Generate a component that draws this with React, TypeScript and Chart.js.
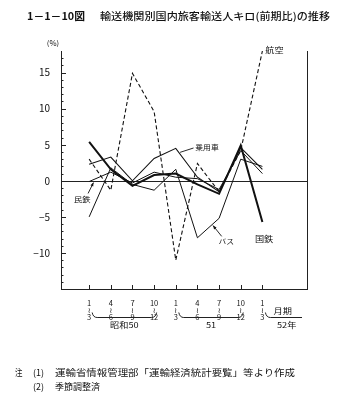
import React, { useEffect, useLayoutEffect, useRef } from 'react';
import { Chart, registerables } from 'chart.js';

Chart.register(...registerables);

// ---- data ----
const quarterIndex = [0, 1, 2, 3, 4, 5, 6, 7, 8];
const quarterStart = ['1', '4', '7', '10', '1', '4', '7', '10', '1'];
const quarterEnd = ['3', '6', '9', '12', '3', '6', '9', '12', '3'];
const groupLabels = ['昭和50', '51', '52年'];
const groupFirst = [0, 4, 8];
const groupLast = [3, 7, 8];
const periodLabel = '月期';
const unitLabel = '(%)';

const kokutetsu = [5.4, 1.6, -0.7, 0.8, 1.0, -0.5, -1.8, 4.9, -5.7];
const mintetsu = [-0.1, 1.2, -0.3, 1.2, 0.5, 0.3, -1.2, 4.2, 1.0];
const jouyousha = [2.3, 3.3, 0.0, 3.1, 4.5, 0.5, -1.5, 4.6, 1.6];
const bus = [-5.0, 1.8, -0.5, -1.3, 1.6, -7.9, -5.2, 3.0, 2.0];
const koukuu = [3.0, -1.3, 14.9, 9.6, -11.0, 2.4, -1.5, 4.2, 18.0];

const yMin = -15;
const yMax = 18;
const yLabelled = [15, 10, 5, 0, -5, -10];

const titleNo = '1－1－10図';
const titleText = '輸送機関別国内旅客輸送人キロ(前期比)の推移';
const note1 = '運輸省情報管理部「運輸経済統計要覧」等より作成';
const note2 = '季節調整済';

// ---- annotation placement (data coordinates) ----
const annotations = [
  { text: '航空', x: 8.13, y: 18.1, align: 'left', size: 8, arrow: null },
  { text: '乗用車', x: 4.9, y: 4.65, align: 'left', size: 6.8, arrow: [4.82, 4.55, 4.2, 3.95], head: false },
  { text: '国鉄', x: 8.08, y: -8.0, align: 'center', size: 8, arrow: null },
  { text: 'バス', x: 6.33, y: -8.4, align: 'center', size: 6.8, arrow: [6.12, -7.7, 5.72, -6.2], head: true },
  { text: '民鉄', x: -0.32, y: -2.57, align: 'center', size: 7.2, arrow: [-0.05, -1.75, 0.2, -0.25], head: true },
];

const FONT = "'Noto Sans CJK JP', 'DejaVu Sans', sans-serif";
const INK = '#111';

function drawText(ctx: CanvasRenderingContext2D, text: string, x: number, y: number, align: CanvasTextAlign, size: number, sx = 1.15) {
  ctx.save();
  ctx.translate(x, y);
  ctx.scale(sx, 1);
  ctx.font = `${size}px ${FONT}`;
  ctx.textAlign = align;
  ctx.textBaseline = 'middle';
  ctx.fillStyle = INK;
  ctx.fillText(text, 0, 0);
  ctx.restore();
}

const decorPlugin = {
  id: 'decor',
  beforeDatasetsDraw(chart: any) {
    const { ctx, chartArea, scales } = chart;
    const xs = scales.x;
    const ys = scales.y;
    ctx.save();
    ctx.strokeStyle = '#222';
    ctx.lineWidth = 1;
    const y0 = Math.round(ys.getPixelForValue(0)) + 0.5;
    ctx.beginPath();
    ctx.moveTo(chartArea.left, y0);
    ctx.lineTo(chartArea.right, y0);
    ctx.stroke();
    ctx.beginPath();
    ctx.moveTo(Math.round(chartArea.right) + 0.5, chartArea.top);
    ctx.lineTo(Math.round(chartArea.right) + 0.5, chartArea.bottom);
    ctx.stroke();
    ys.ticks.forEach((t: any) => {
      const py = Math.round(ys.getPixelForValue(t.value)) + 0.5;
      const len = t.value % 5 === 0 ? 5 : 2.5;
      ctx.beginPath();
      ctx.moveTo(chartArea.left, py);
      ctx.lineTo(chartArea.left + len, py);
      ctx.stroke();
    });
    xs.ticks.forEach((t: any) => {
      const px = Math.round(xs.getPixelForValue(t.value)) + 0.5;
      ctx.beginPath();
      ctx.moveTo(px, chartArea.bottom);
      ctx.lineTo(px, chartArea.bottom - 4);
      ctx.stroke();
    });
    ctx.restore();
  },
  afterDraw(chart: any) {
    const { ctx, chartArea, scales } = chart;
    const xs = scales.x;
    const ys = scales.y;
    drawText(ctx, unitLabel, chartArea.left - 8, chartArea.top - 8, 'center', 7, 1.1);
    ctx.save();
    ctx.strokeStyle = '#222';
    ctx.lineWidth = 1;
    const by = chartArea.bottom + 28.5;
    groupLabels.forEach((g, k) => {
      const x0 = xs.getPixelForValue(groupFirst[k]) + 3;
      const last = groupFirst[k] === groupLast[k];
      const x1 = last ? chartArea.right - 5 : xs.getPixelForValue(groupLast[k]) + 2.5;
      ctx.beginPath();
      ctx.moveTo(x0, by - 5);
      ctx.quadraticCurveTo(x0 + 1, by, x0 + 5, by);
      if (last) {
        ctx.lineTo(x1, by);
      } else {
        ctx.lineTo(x1 - 5, by);
        ctx.quadraticCurveTo(x1 - 1, by, x1, by - 5);
      }
      ctx.stroke();
      drawText(ctx, g, last ? (x0 + x1) / 2 + 3 : (x0 + x1) / 2, by + 7.5, 'center', 8, 1.15);
      if (last) {
        drawText(ctx, periodLabel, (x0 + x1) / 2 - 1, by - 7, 'center', 8, 1.15);
      }
    });
    ctx.restore();
    ctx.save();
    ctx.strokeStyle = INK;
    ctx.fillStyle = INK;
    ctx.lineWidth = 0.9;
    annotations.forEach((a) => {
      const px = xs.getPixelForValue(a.x);
      const py = ys.getPixelForValue(a.y);
      drawText(ctx, a.text, px, py, a.align as CanvasTextAlign, a.size, 1.15);
      if (a.arrow) {
        const ax0 = xs.getPixelForValue(a.arrow[0]);
        const ay0 = ys.getPixelForValue(a.arrow[1]);
        const ax1 = xs.getPixelForValue(a.arrow[2]);
        const ay1 = ys.getPixelForValue(a.arrow[3]);
        ctx.beginPath();
        ctx.moveTo(ax0, ay0);
        ctx.lineTo(ax1, ay1);
        ctx.stroke();
        if (a.head) {
          const ang = Math.atan2(ay1 - ay0, ax1 - ax0);
          const hl = 4;
          ctx.beginPath();
          ctx.moveTo(ax1, ay1);
          ctx.lineTo(ax1 - hl * Math.cos(ang - 0.4), ay1 - hl * Math.sin(ang - 0.4));
          ctx.lineTo(ax1 - hl * Math.cos(ang + 0.4), ay1 - hl * Math.sin(ang + 0.4));
          ctx.closePath();
          ctx.fill();
        }
      }
    });
    ctx.restore();
  },
};

function FitText({ text, left, cy, width, size, weight = 400 }: { text: string; left: number; cy: number; width: number; size: number; weight?: number }) {
  const ref = useRef<HTMLSpanElement>(null);
  useLayoutEffect(() => {
    const el = ref.current;
    if (!el) return;
    el.style.transform = 'none';
    const w = el.getBoundingClientRect().width;
    if (w > 0) el.style.transform = `scaleX(${width / w})`;
  }, [text, width, size]);
  return (
    <span
      ref={ref}
      style={{
        position: 'absolute',
        left,
        top: cy - size * 0.6,
        fontSize: size,
        lineHeight: `${size * 1.2}px`,
        whiteSpace: 'pre',
        transformOrigin: '0 0',
        fontFamily: FONT,
        fontWeight: weight,
        color: INK,
      }}
    >
      {text}
    </span>
  );
}

export default function App() {
  const canvasRef = useRef<HTMLCanvasElement>(null);

  useEffect(() => {
    const canvas = canvasRef.current;
    if (!canvas) return;
    const mk = (name: string, values: number[], width: number, dash: number[]) => ({
      label: name,
      data: values.map((v, i) => ({ x: quarterIndex[i], y: v })),
      borderColor: INK,
      borderWidth: width,
      borderDash: dash,
      pointRadius: 0,
      fill: false,
      tension: 0,
    });
    const chart = new Chart(canvas, {
      type: 'line',
      data: {
        datasets: [
          mk('航空', koukuu, 1.1, [4, 2.5]),
          mk('バス', bus, 1, []),
          mk('民鉄', mintetsu, 1, []),
          mk('乗用車', jouyousha, 1.1, []),
          mk('国鉄', kokutetsu, 2, []),
        ] as any,
      },
      options: {
        animation: false,
        responsive: false,
        devicePixelRatio: 1,
        layout: { padding: { top: 51, right: 46, left: 0, bottom: 0 } },
        plugins: { legend: { display: false }, tooltip: { enabled: false } },
        scales: {
          x: {
            type: 'linear',
            min: -1.3,
            max: 10.06,
            afterBuildTicks: (s: any) => {
              s.ticks = quarterIndex.map((v) => ({ value: v }));
            },
            afterFit: (s: any) => {
              s.height = 118;
            },
            grid: { display: false },
            border: { display: true, color: '#222', width: 1 },
            ticks: {
              autoSkip: false,
              maxRotation: 0,
              padding: 3,
              color: INK,
              font: { family: FONT, size: 7.5, lineHeight: '6.7px' },
              callback: (_v: any, i: number) => [quarterStart[i], '≀', quarterEnd[i]],
            },
          },
          y: {
            min: yMin,
            max: yMax,
            afterBuildTicks: (s: any) => {
              const t: any[] = [];
              for (let v = yMin; v < yMax; v++) t.push({ value: v });
              s.ticks = t;
            },
            afterFit: (s: any) => {
              s.width = 61;
            },
            grid: { display: false },
            border: { display: true, color: '#222', width: 1 },
            ticks: {
              autoSkip: false,
              padding: 3,
              color: INK,
              font: { family: FONT, size: 10 },
              callback: (v: any) => (yLabelled.includes(v) ? (v < 0 ? '−' + -v : String(v)) : ''),
            },
          },
        },
      } as any,
      plugins: [decorPlugin],
    });
    return () => chart.destroy();
  }, []);

  return (
    <div style={{ position: 'fixed', left: 0, top: 0, width: 353, height: 407, background: '#fff', overflow: 'hidden' }}>
      <canvas ref={canvasRef} width={353} height={407} style={{ position: 'absolute', left: 0, top: 0, width: 353, height: 407 }} />
      <FitText text={titleNo} left={27} cy={15.5} width={58} size={10} weight={700} />
      <FitText text={titleText} left={100} cy={15.5} width={230} size={10} weight={500} />
      <FitText text="注" left={15} cy={373.5} width={7.5} size={9} />
      <FitText text="(1)" left={33} cy={373.5} width={11} size={9} />
      <FitText text={note1} left={55} cy={373.5} width={240} size={9} />
      <FitText text="(2)" left={33} cy={387} width={11} size={9} />
      <FitText text={note2} left={55} cy={387} width={45} size={9} />
    </div>
  );
}
